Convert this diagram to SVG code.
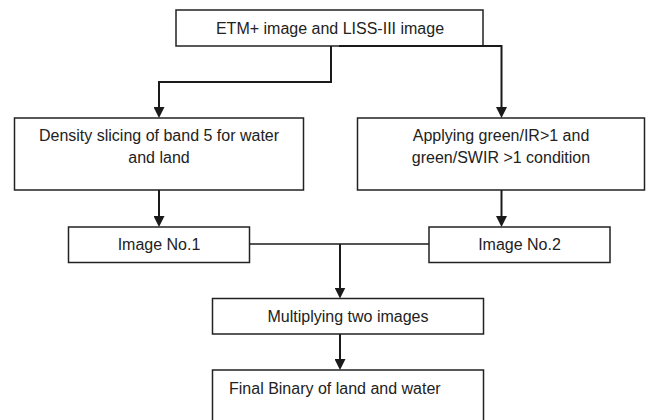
<svg xmlns="http://www.w3.org/2000/svg" width="646" height="420" viewBox="0 0 646 420">
  <style>
    .box { fill: #ffffff; stroke: #222222; stroke-width: 1.5; }
    .label { font-family: "Liberation Sans", Arial, sans-serif; font-size: 16px; fill: #222222; }
    .mid { text-anchor: middle; }
    .link { fill: none; stroke: #1a1a1a; stroke-width: 2; }
    .join { fill: none; stroke: #1a1a1a; stroke-width: 1.5; }
  </style>
  <defs>
    <marker id="arrow" markerUnits="userSpaceOnUse" markerWidth="11" markerHeight="11" viewBox="0 0 11 11" refX="7" refY="5.5" orient="auto">
      <path d="M0,0 L11,5.5 L0,11 Z" fill="#1a1a1a"/>
    </marker>
  </defs>

  <g id="input">
    <rect class="box" x="176" y="10" width="307" height="36"/>
    <text class="label mid" x="330" y="33.5">ETM+ image and LISS-III image</text>
  </g>

  <g id="density-slicing">
    <rect class="box" x="14.5" y="118" width="289" height="72"/>
    <text class="label mid" x="159" y="140.5">Density slicing of band 5 for water</text>
    <text class="label mid" x="159" y="162.5">and land</text>
  </g>

  <g id="ratio-condition">
    <rect class="box" x="357.5" y="118" width="287" height="72"/>
    <text class="label mid" x="501" y="140.5">Applying green/IR&gt;1 and</text>
    <text class="label mid" x="501" y="162.5">green/SWIR &gt;1 condition</text>
  </g>

  <g id="image-1">
    <rect class="box" x="68.5" y="227" width="181" height="35.5"/>
    <text class="label mid" x="159" y="250">Image No.1</text>
  </g>

  <g id="image-2">
    <rect class="box" x="429" y="227" width="181" height="35.5"/>
    <text class="label mid" x="519.5" y="250">Image No.2</text>
  </g>

  <g id="multiply">
    <rect class="box" x="212.5" y="298.5" width="271" height="35.5"/>
    <text class="label mid" x="348" y="321.5">Multiplying two images</text>
  </g>

  <g id="final-binary">
    <rect class="box" x="212.5" y="370" width="271" height="60"/>
    <text class="label" x="229" y="393.5">Final Binary of land and water</text>
  </g>

  <g id="connectors">
    <path class="link" d="M331,46 V82 H159 V114" marker-end="url(#arrow)"/>
    <path class="link" d="M339,46 H501.5 V114" marker-end="url(#arrow)"/>
    <path class="link" d="M159,190 V223" marker-end="url(#arrow)"/>
    <path class="link" d="M501.5,190 V223" marker-end="url(#arrow)"/>
    <path class="join" d="M249.5,244 H429"/>
    <path class="link" d="M340,244 V294.5" marker-end="url(#arrow)"/>
    <path class="link" d="M340,334 V366" marker-end="url(#arrow)"/>
  </g>
</svg>
